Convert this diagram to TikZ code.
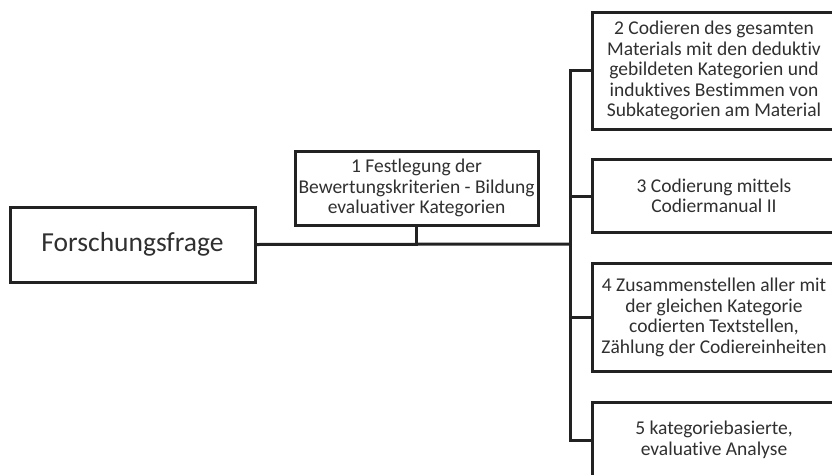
\documentclass[tikz,border=0pt]{standalone}
\usepackage{fontspec}
\setmainfont[Ligatures={NoCommon,NoRare,NoContextual}]{Carlito}
\definecolor{linegray}{HTML}{222222}
\definecolor{textgray}{HTML}{303030}
\begin{document}
\begin{tikzpicture}[x=1pt,y=-1pt,
  box/.style={draw=linegray, line width=3pt, fill=white, text=textgray,
    align=center, inner sep=0pt, font=\fontsize{19.5}{20.5}\selectfont},
  wire/.style={draw=linegray, line width=3pt, line join=miter, line cap=rect}]
\useasboundingbox (0,0) rectangle (832,474);
\clip (0,0) rectangle (832,474);

% main question and first step
\node[box, minimum width=245pt, minimum height=75pt,
  font=\fontsize{27.5}{31}\selectfont] (ff) at (132.5,244.5) {Forschungsfrage};
\node[box, minimum width=243pt, minimum height=74pt] (s1) at (416.5,188)
  {1 Festlegung der\\Bewertungskriterien - Bildung\\evaluativer Kategorien};

% following steps on the right
\node[box, minimum width=244pt, minimum height=117pt] (s2) at (714,70.5)
  {2 Codieren des gesamten\\Materials mit den deduktiv\\gebildeten Kategorien und\\induktives Bestimmen von\\Subkategorien am Material};
\node[box, minimum width=244pt, minimum height=73pt] (s3) at (714,196)
  {3 Codierung mittels\\Codiermanual II};
\node[box, minimum width=244pt, minimum height=108pt] (s4) at (714,317.5)
  {4 Zusammenstellen aller mit\\der gleichen Kategorie\\codierten Textstellen,\\Zählung der Codiereinheiten};
\node[box, minimum width=244pt, minimum height=76pt] (s5) at (714,440)
  {5 kategoriebasierte,\\evaluative Analyse};

% connectors
\coordinate (j) at (570,244);
\draw[wire] (ff.east) -- (j);
\draw[wire] (s1.south) -- (s1.south |- j);
\draw[wire] (s2.west) -- (j |- s2.west) -- (j |- s5.west) -- (s5.west);
\draw[wire] (s3.west) -- (j |- s3.west);
\draw[wire] (s4.west) -- (j |- s4.west);
\end{tikzpicture}
\end{document}
